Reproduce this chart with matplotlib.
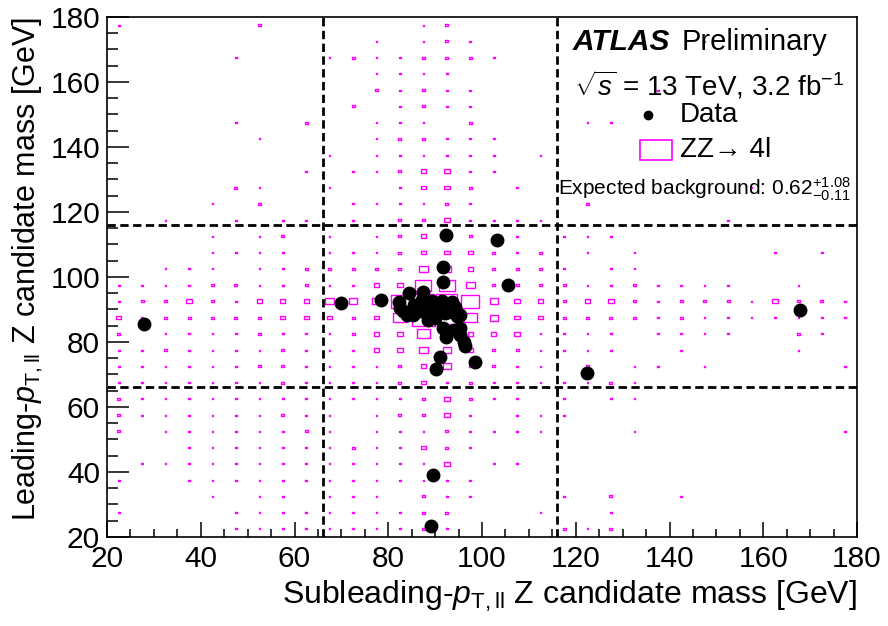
import numpy as np
import matplotlib
matplotlib.use('Agg')
import matplotlib.pyplot as plt
from matplotlib.patches import Rectangle
from matplotlib.collections import PatchCollection
from matplotlib.ticker import MultipleLocator

plt.rcParams['font.family'] = ['Liberation Sans', 'DejaVu Sans']
plt.rcParams['mathtext.fontset'] = 'custom'
plt.rcParams['mathtext.rm'] = 'Liberation Sans'
plt.rcParams['mathtext.it'] = 'Liberation Sans:italic'
plt.rcParams['mathtext.bf'] = 'Liberation Sans:bold'

# ZZ->4l expectation in 5 GeV bins (20-180 on both axes).
# Rows go from the top bin (177.5 GeV) down to the bottom bin (22.5 GeV),
# columns from 22.5 GeV to 177.5 GeV. '.' = empty, '1'..'9' = relative yield level.
zz_rows = [
    "1.....2......12.................",
    "...........1.121.........1......",
    ".....1...12112221...............",
    "...........1111.................",
    "...........21211.......1........",
    "..........2.1211................",
    ".....1..2..111.2....11..........",
    "......1....122111...............",
    ".........1.111111.1.............",
    "........1.1123311...............",
    ".....21..1..1332.1.........1....",
    "....1.2...111121....2...........",
    "..1..1.11.1.2231111.......1.....",
    "....1.12.1.12322.1.111..........",
    "....1111.1112333212.1.1.....1.1.",
    "..111.11222224432221.11.........",
    "111122112113366422221121111..1..",
    "12232133344478874332332122213221",
    "31222223332359754332222121111111",
    "2.11112111233543331111.1111..21.",
    "1121111211133443221111..1....1..",
    "1111112211112342211.2.11.1.....1",
    "11111112111123121111121.........",
    "211111111111123211.1.11.........",
    "2111111211.12231.111............",
    "2.11111121.11121111...1........1",
    "...1111111211321................",
    ".11111111111113.11..............",
    "1..1111111111111................",
    "....1.11.111.211...1.2..1.......",
    "1....1111111122...1..1..........",
    ".....1111111121....212..........",
]
zz_level = {'1': 0.07, '2': 0.13, '3': 0.23, '4': 0.36, '5': 0.56,
            '6': 0.68, '7': 0.76, '8': 0.9, '9': 1.0}
bin_lo = 20
bin_w = 5

# Data events (subleading mass, leading mass) in GeV
data_x = [27.8, 69.9, 78.4, 84.5, 87.5, 91.7, 91.7, 92.3, 103.1, 105.6,
          82.3, 82.5, 83.2, 83.9, 85.3, 86.8, 87.1, 88.5, 88.5, 89.3,
          90.0, 90.3, 91.4, 92.1, 92.8, 93.5, 94.2, 94.6, 95.2, 91.6,
          92.3, 94.0, 95.2, 95.2, 96.2, 96.4, 91.0, 98.4, 90.2, 122.3,
          167.8, 89.5, 89.2, 85.5, 88.0, 91.0, 93.0]
data_y = [85.4, 92.0, 92.9, 95.2, 95.5, 98.4, 103.0, 113.0, 111.5, 97.4,
          92.2, 90.3, 89.5, 88.3, 88.3, 89.6, 92.9, 88.8, 86.8, 92.7,
          87.3, 89.8, 92.7, 88.8, 89.3, 92.4, 90.9, 88.0, 88.3, 84.3,
          81.6, 83.6, 84.2, 82.3, 80.0, 78.7, 75.3, 73.8, 71.6, 70.5,
          89.8, 39.2, 23.3, 91.3, 90.8, 91.0, 91.5]

# Signal-region cuts
cuts = [66, 116]

fig = plt.figure(figsize=(8.88, 6.26), dpi=100)
ax = fig.add_axes([0.1205, 0.1422, 0.8446, 0.8307])

# Box histogram
boxes = []
nrow = len(zz_rows)
for r, row in enumerate(zz_rows):
    yc = bin_lo + bin_w*(nrow-1-r) + bin_w/2
    for c, ch in enumerate(row):
        if ch == '.':
            continue
        s = zz_level[ch]*bin_w
        xc = bin_lo + bin_w*c + bin_w/2
        boxes.append(Rectangle((xc-s/2, yc-s/2), s, s))
ax.add_collection(PatchCollection(boxes, facecolor='none', edgecolor='#ff00ff', linewidth=1.0, zorder=2))

# Cut lines
for c in cuts:
    ax.axvline(c, color='k', lw=2, ls=(0, (3, 1.6)), zorder=3)
    ax.axhline(c, color='k', lw=2, ls=(0, (3, 1.6)), zorder=3)

ax.plot(data_x, data_y, 'o', color='k', ms=9, zorder=5)

ax.set_xlim(20, 180); ax.set_ylim(20, 180)
ax.xaxis.set_major_locator(MultipleLocator(20)); ax.xaxis.set_minor_locator(MultipleLocator(5))
ax.yaxis.set_major_locator(MultipleLocator(20)); ax.yaxis.set_minor_locator(MultipleLocator(5))
ax.tick_params(which='both', direction='in', top=False, right=False, width=1.1, labelsize=21.5)
ax.tick_params(axis='x', which='major', length=11, pad=6)
ax.tick_params(axis='x', which='minor', length=5.7)
ax.tick_params(axis='y', which='major', length=15.5, pad=5)
ax.tick_params(axis='y', which='minor', length=7.7)
for sp in ax.spines.values():
    sp.set_linewidth(1.2)

ax.set_xlabel(r'Subleading-$p_{\mathrm{T,ll}}$ Z candidate mass [GeV]', fontsize=23, loc='right', labelpad=4)
ax.set_ylabel(r'Leading-$p_{\mathrm{T,ll}}$ Z candidate mass [GeV]', fontsize=22, loc='top', labelpad=4)

# Legend / labels
ax.text(0.621, 0.952, 'ATLAS', transform=ax.transAxes, fontsize=21.5, fontweight='bold', fontstyle='italic', va='center')
ax.text(0.766, 0.952, 'Preliminary', transform=ax.transAxes, fontsize=21, va='center')
ax.text(0.622, 0.869, r'$\sqrt{s}$ = 13 TeV, 3.2 fb$^{-1}$', transform=ax.transAxes, fontsize=20, va='center')
ax.plot([0.721], [0.8115], 'o', color='k', ms=6, transform=ax.transAxes, clip_on=False)
ax.text(0.764, 0.8115, 'Data', transform=ax.transAxes, fontsize=20, va='center')
ax.add_patch(Rectangle((0.711, 0.725), 0.0427, 0.0385, transform=ax.transAxes, fill=False, ec='#ff00ff', lw=1.2))
ax.text(0.764, 0.744, 'ZZ\u2192 4l', transform=ax.transAxes, fontsize=20, va='center')
ax.text(0.601, 0.669, r'Expected background: 0.62$^{+1.08}_{-0.11}$', transform=ax.transAxes, fontsize=15, va='center')

fig.savefig('out.png', dpi=100)
